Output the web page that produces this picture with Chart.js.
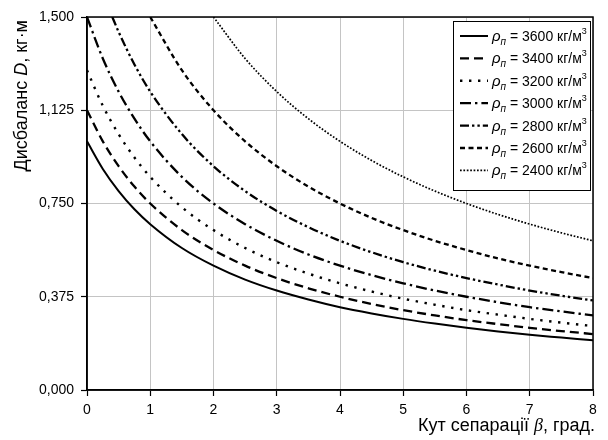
<!DOCTYPE html>
<html><head><meta charset="utf-8">
<script src="https://cdn.jsdelivr.net/npm/chart.js@4/dist/chart.umd.min.js"></script>
<style>html,body{margin:0;padding:0;background:#fff}canvas{display:block}</style>
</head><body>
<canvas id="c" width="608" height="440"></canvas>
<script>
// ---- data ----
const densities = [3600, 3400, 3200, 3000, 2800, 2600, 2400];
const xFull = [0, 0.25, 0.5, 0.75, 1, 1.5, 2, 2.5, 3, 3.5, 4, 4.5, 5, 5.5, 6, 6.5, 7, 7.5, 8];
const d3600 = [1.000, 0.889, 0.800, 0.727, 0.667, 0.571, 0.500, 0.444, 0.400, 0.364, 0.333, 0.308, 0.286, 0.267, 0.250, 0.235, 0.222, 0.211, 0.200];
const d3400 = [1.125, 1.000, 0.900, 0.818, 0.750, 0.643, 0.563, 0.500, 0.450, 0.409, 0.375, 0.346, 0.321, 0.300, 0.281, 0.265, 0.250, 0.237, 0.225];
const d3200 = [1.286, 1.143, 1.029, 0.935, 0.857, 0.735, 0.643, 0.571, 0.514, 0.468, 0.429, 0.396, 0.367, 0.343, 0.321, 0.303, 0.286, 0.271, 0.257];
const d3000 = [1.500, 1.333, 1.200, 1.091, 1.000, 0.857, 0.750, 0.667, 0.600, 0.545, 0.500, 0.462, 0.429, 0.400, 0.375, 0.353, 0.333, 0.316, 0.300];
const x2800 = [0.4, 0.5, 0.75, 1, 1.5, 2, 2.5, 3, 3.5, 4, 4.5, 5, 5.5, 6, 6.5, 7, 7.5, 8];
const d2800 = [1.500, 1.440, 1.309, 1.200, 1.029, 0.900, 0.800, 0.720, 0.655, 0.600, 0.554, 0.514, 0.480, 0.450, 0.424, 0.400, 0.379, 0.360];
const x2600 = [1, 1.5, 2, 2.5, 3, 3.5, 4, 4.5, 5, 5.5, 6, 6.5, 7, 7.5, 8];
const d2600 = [1.500, 1.286, 1.125, 1.000, 0.900, 0.818, 0.750, 0.692, 0.643, 0.600, 0.563, 0.529, 0.500, 0.474, 0.450];
const x2400 = [2, 2.5, 3, 3.5, 4, 4.5, 5, 5.5, 6, 6.5, 7, 7.5, 8];
const d2400 = [1.500, 1.333, 1.200, 1.091, 1.000, 0.923, 0.857, 0.800, 0.750, 0.706, 0.667, 0.632, 0.600];
const xTicks = [0, 1, 2, 3, 4, 5, 6, 7, 8];
const yTicks = [0, 0.375, 0.75, 1.125, 1.5];

const seriesX = [xFull, xFull, xFull, xFull, x2800, x2600, x2400];
const seriesY = [d3600, d3400, d3200, d3000, d2800, d2600, d2400];

// ---- styles ----
const dashes = [[], [9, 5], [2.4, 6.6], [11, 4, 2.4, 4], [9, 3, 2.4, 3, 2.4, 3], [5, 3.5], [1.7, 1.7]];
const widths = [2, 2.3, 2.4, 2.3, 2.3, 2.3, 1.7];

const datasets = densities.map((d, i) => ({
  label: 'ρп = ' + d + ' кг/м3',
  data: seriesX[i].map((x, j) => ({ x: x, y: seriesY[i][j] })),
  borderColor: '#000',
  borderWidth: widths[i],
  borderDash: dashes[i],
  pointRadius: 0,
  fill: false,
  cubicInterpolationMode: 'monotone'
}));

function drawRich(ctx, segs, x, y, align) {
  let w = 0;
  for (const s of segs) { ctx.font = s.font; w += ctx.measureText(s.t).width; }
  let cx = align === 'right' ? x - w : (align === 'center' ? x - w / 2 : x);
  ctx.textAlign = 'left';
  ctx.textBaseline = 'alphabetic';
  for (const s of segs) {
    ctx.font = s.font;
    ctx.fillText(s.t, cx, y + (s.dy || 0));
    cx += ctx.measureText(s.t).width;
  }
  return w;
}

const FONT = '"Liberation Sans", Arial, sans-serif';

const decor = {
  id: 'decor',
  afterDraw(chart) {
    const ctx = chart.ctx;
    const a = chart.chartArea;
    ctx.save();
    ctx.fillStyle = '#000';
    ctx.strokeStyle = '#000';
    // frame
    ctx.lineWidth = 1.5;
    ctx.strokeRect(a.left, a.top, a.right - a.left, a.bottom - a.top);

    // x title
    drawRich(ctx, [
      { t: 'Кут сепарації ', font: '18px ' + FONT },
      { t: 'β', font: 'italic 18px "Liberation Serif", serif' },
      { t: ', град.', font: '18px ' + FONT }
    ], 595, 431, 'right');

    // y title (rotated)
    ctx.save();
    ctx.translate(27, 20);
    ctx.rotate(-Math.PI / 2);
    drawRich(ctx, [
      { t: 'Дисбаланс ', font: '18px ' + FONT },
      { t: 'D', font: 'italic 18px ' + FONT },
      { t: ', кг·м', font: '18px ' + FONT }
    ], 0, 0, 'right');
    ctx.restore();

    // legend
    const lx = 453, ly = 21, lw = 137, lh = 169;
    ctx.fillStyle = '#fff';
    ctx.fillRect(lx, ly, lw, lh);
    ctx.lineWidth = 1;
    ctx.strokeStyle = '#000';
    ctx.strokeRect(lx + 0.5, ly + 0.5, lw, lh);
    ctx.fillStyle = '#000';
    chart.data.datasets.forEach((ds, i) => {
      const cy = 36 + i * 22.4;
      ctx.save();
      ctx.beginPath();
      ctx.setLineDash(ds.borderDash);
      ctx.lineWidth = ds.borderWidth;
      ctx.moveTo(460, cy);
      ctx.lineTo(488, cy);
      ctx.stroke();
      ctx.restore();
      drawRich(ctx, [
        { t: 'ρ', font: 'italic 15px ' + FONT },
        { t: 'п', font: 'italic 10px ' + FONT, dy: 4 },
        { t: ' = ' + densities[i] + ' кг/м', font: '14px ' + FONT },
        { t: '3', font: '9px ' + FONT, dy: -7 }
      ], 492, cy + 5, 'left');
    });
    ctx.restore();
  }
};

new Chart(document.getElementById('c'), {
  type: 'line',
  data: { datasets: datasets },
  options: {
    responsive: false,
    devicePixelRatio: 1,
    animation: false,
    layout: { padding: { left: 0, top: 17, right: 15, bottom: 0 } },
    plugins: { legend: { display: false }, tooltip: { enabled: false } },
    scales: {
      x: {
        type: 'linear', min: 0, max: 8,
        afterBuildTicks: s => { s.ticks = xTicks.map(v => ({ value: v })); },
        afterFit: s => { s.height = 50; },
        ticks: { color: '#000', font: { family: FONT, size: 14 }, padding: 6, maxRotation: 0,
          callback: v => String(v) },
        grid: { color: '#c4c4c4', lineWidth: 1, tickColor: '#000', tickLength: 6, tickWidth: 1.2 },
        border: { display: true, color: '#000', width: 1.5 }
      },
      y: {
        type: 'linear', min: 0, max: 1.5,
        afterBuildTicks: s => { s.ticks = yTicks.map(v => ({ value: v })); },
        afterFit: s => { s.width = 87; },
        ticks: { color: '#000', font: { family: FONT, size: 14 }, padding: 7,
          callback: v => v.toFixed(3).replace('.', ',') },
        grid: { color: '#c4c4c4', lineWidth: 1, tickColor: '#000', tickLength: 6, tickWidth: 1.2 },
        border: { display: true, color: '#000', width: 1.5 }
      }
    }
  },
  plugins: [decor]
});
</script>
</body></html>
